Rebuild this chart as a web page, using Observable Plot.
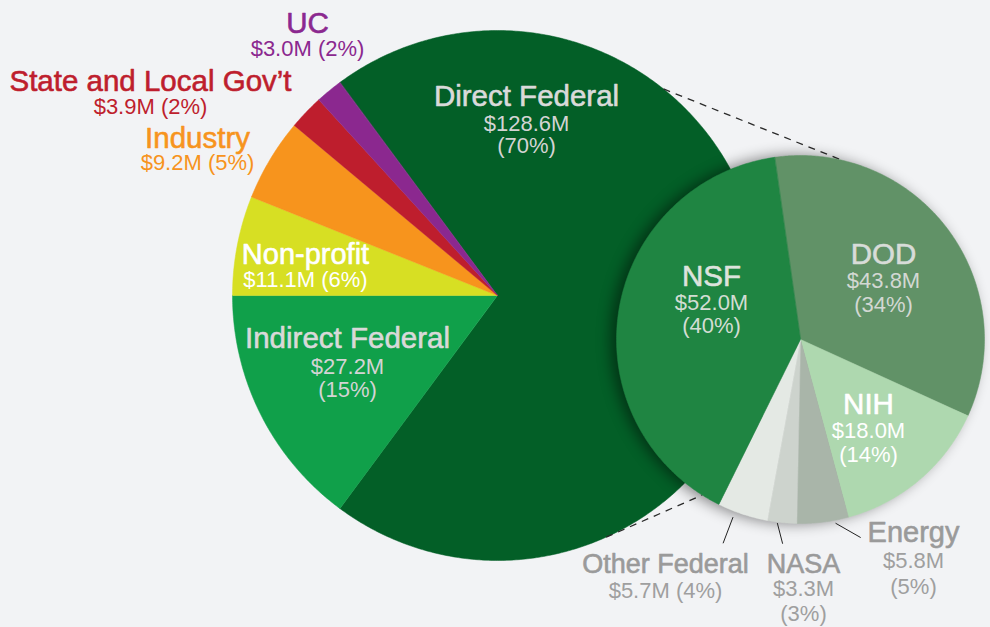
<!DOCTYPE html>
<html><head><meta charset="utf-8">
<script src="https://cdn.jsdelivr.net/npm/d3@7"></script>
<script src="https://cdn.jsdelivr.net/npm/@observablehq/plot@0.6"></script>
<style>
html,body{margin:0;padding:0;background:#F2F3F5;}
#chart{width:990px;height:627px;overflow:hidden;}
</style></head><body><div id="chart"></div>
<script>
// ---- data ----
const mainCategories = ["Direct Federal", "Indirect Federal", "Non-profit", "Industry", "State and Local Gov\u2019t", "UC"];
const mainValues = [128.6, 27.2, 11.1, 9.2, 3.9, 3.0];
const mainPercents = [70, 15, 6, 5, 2, 2];

const subCategories = ["DOD", "NIH", "Energy", "NASA", "Other Federal", "NSF"];
const subValues = [43.8, 18.0, 5.8, 3.3, 5.7, 52.0];
const subPercents = [34, 14, 5, 3, 4, 40];

// ---- styles / layout ----
const mainColors = ["#035F27", "#10A04A", "#D7DF23", "#F7941D", "#BE1E2D", "#8B288F"];
const subColors = ["#619267", "#AED8AF", "#A9B5A9", "#CDD3CD", "#E4E9E4", "#1F8542"];

const W = 990, H = 627;
const MAIN = {cx: 497, cy: 295, r: 265, start: -36.5};
const SUB = {cx: 800, cy: 339, r: 184, start: -8.1};

// label layout: x, baselines of title / value / percent (2 entries => value and percent inline)
const mainLabelLayout = [
  {cat: "Direct Federal", x: 526, y: [105, 130, 152], title: "#DADADA", val: "#D4D4D4", size: 29.5},
  {cat: "Indirect Federal", x: 347, y: [347, 373, 396], title: "#D9D9D9", val: "#D4D4D4", size: 29.5},
  {cat: "Non-profit", x: 305, y: [263, 286], title: "#FFFFFF", val: "#FFFFFF", size: 29},
  {cat: "Industry", x: 197, y: [147, 169], title: "#F7941D", val: "#F7941D", size: 29.5},
  {cat: "State and Local Gov\u2019t", x: 150, y: [90, 113], title: "#BE1E2D", val: "#BE1E2D", size: 29.5},
  {cat: "UC", x: 307, y: [32, 55], title: "#8B288F", val: "#8B288F", size: 29.5}
];
const subLabelLayout = [
  {cat: "NSF", x: 711, y: [285, 309, 332], title: "#DDE3DD", val: "#D3DDD3", size: 29.5},
  {cat: "DOD", x: 883, y: [263, 287, 311], title: "#D8DCD8", val: "#D3D8D3", size: 29.5},
  {cat: "NIH", x: 868, y: [413, 437, 461], title: "#FFFFFF", val: "#FFFFFF", size: 29.5},
  {cat: "Energy", x: 913, y: [541, 567, 593], title: "#9A9A9A", val: "#9F9F9F", size: 29},
  {cat: "NASA", x: 803, y: [572, 595, 620], title: "#9A9A9A", val: "#9F9F9F", size: 27},
  {cat: "Other Federal", x: 665, y: [572, 597], title: "#9A9A9A", val: "#9F9F9F", size: 27}
];
// leader lines (polar, relative to sub pie): angle deg, radius
const leaderLayout = [
  {a1: 200.8, r1: 190, a2: 200.8, r2: 218},
  {a1: 187.2, r1: 185, a2: 185.0, r2: 205},
  {a1: 169.2, r1: 187, a2: 163.1, r2: 207}
];
// dashed connectors: angle on main pie -> angle on sub pie
const connectorLayout = [
  {aMain: 38.8, aSub: 13.1},
  {aMain: 155.8, aSub: 212.3}
];

const rad = d => d * Math.PI / 180;
const polar = (p, a, r) => [p.cx + r * Math.sin(rad(a)), p.cy - r * Math.cos(rad(a))];

function wedgePoints(cats, vals, p) {
  const arcs = d3.pie().sort(null).startAngle(rad(p.start)).endAngle(rad(p.start) + 2 * Math.PI)(vals);
  const pts = [];
  arcs.forEach((a, i) => {
    const n = Math.max(4, Math.ceil((a.endAngle - a.startAngle) / (Math.PI / 360)));
    pts.push({cat: cats[i], x: p.cx, y: p.cy});
    for (let k = 0; k <= n; k++) {
      const t = a.startAngle + (a.endAngle - a.startAngle) * k / n;
      pts.push({cat: cats[i], x: p.cx + p.r * Math.sin(t), y: p.cy - p.r * Math.cos(t)});
    }
  });
  return pts;
}

function labelRows(cats, vals, pcts, layout) {
  const titles = [], values = [];
  layout.forEach(l => {
    const i = cats.indexOf(l.cat);
    const v = "$" + vals[i].toFixed(1) + "M";
    const pc = "(" + pcts[i] + "%)";
    titles.push({x: l.x, y: l.y[0], text: l.cat, color: l.title, size: l.size});
    if (l.y.length === 3) {
      values.push({x: l.x, y: l.y[1], text: v, color: l.val});
      values.push({x: l.x, y: l.y[2], text: pc, color: l.val});
    } else {
      values.push({x: l.x, y: l.y[1], text: v + " " + pc, color: l.val});
    }
  });
  return {titles, values};
}

const mainPts = wedgePoints(mainCategories, mainValues, MAIN);
const subPts = wedgePoints(subCategories, subValues, SUB);
const mainLabels = labelRows(mainCategories, mainValues, mainPercents, mainLabelLayout);
const subLabels = labelRows(subCategories, subValues, subPercents, subLabelLayout);
const titleRows = mainLabels.titles.concat(subLabels.titles);
const valueRows = mainLabels.values.concat(subLabels.values);

const connectors = connectorLayout.map(c => {
  const [x1, y1] = polar(MAIN, c.aMain, MAIN.r);
  const [x2, y2] = polar(SUB, c.aSub, SUB.r);
  return {x1, y1, x2, y2};
});
const leaders = leaderLayout.map(l => {
  const [x1, y1] = polar(SUB, l.a1, l.r1);
  const [x2, y2] = polar(SUB, l.a2, l.r2);
  return {x1, y1, x2, y2};
});

const chart = Plot.plot({
  width: W, height: H,
  margin: 0, marginTop: 0, marginRight: 0, marginBottom: 0, marginLeft: 0,
  x: {domain: [0, W], range: [0, W], axis: null},
  y: {domain: [0, H], range: [0, H], axis: null},
  color: {domain: mainCategories.concat(subCategories), range: mainColors.concat(subColors)},
  style: {background: "#F2F3F5", fontFamily: "'Liberation Sans', Arial, sans-serif", overflow: "visible"},
  marks: [
    Plot.line(mainPts, {x: "x", y: "y", z: "cat", fill: "cat", stroke: "cat", strokeWidth: 0.5, curve: "linear-closed"}),
    Plot.link(connectors, {x1: "x1", y1: "y1", x2: "x2", y2: "y2", stroke: "#2a2a2a", strokeWidth: 1.3, strokeDasharray: "7,6"}),
    Plot.line(subPts, {x: "x", y: "y", z: "cat", fill: "cat", stroke: "cat", strokeWidth: 0.5, curve: "linear-closed"}),
    Plot.link(leaders, {x1: "x1", y1: "y1", x2: "x2", y2: "y2", stroke: "#222", strokeWidth: 1}),
    Plot.text(titleRows, {x: "x", y: "y", text: "text", fill: "color", stroke: "color", strokeWidth: 0.6, fontSize: d => d.size, textAnchor: "middle", lineAnchor: "bottom"}),
    Plot.text(valueRows, {x: "x", y: "y", text: "text", fill: "color", fontSize: 22, textAnchor: "middle", lineAnchor: "bottom"})
  ]
});
const pieGroups = d3.select(chart).selectAll('g[aria-label="line"]');
pieGroups.filter((d, i) => i === 1).style("filter", "drop-shadow(-6px 0px 7px rgba(0,0,0,0.45))");
document.getElementById("chart").appendChild(chart);
</script>
</body></html>
